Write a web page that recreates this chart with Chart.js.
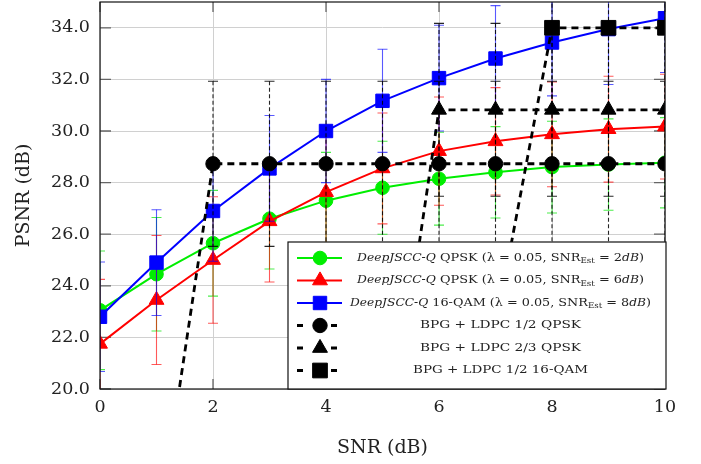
<!DOCTYPE html>
<html>
<head>
<meta charset="utf-8">
<script src="https://cdn.jsdelivr.net/npm/chart.js@4.4.0/dist/chart.umd.min.js"></script>
<style>
html,body{margin:0;padding:0;background:#fff;}
#wrap{width:701px;height:464px;position:relative;}
</style>
</head>
<body>
<div id="wrap"><canvas id="c" width="701" height="464"></canvas></div>
<script>
// ---- data ----
const snr = [0,1,2,3,4,5,6,7,8,9,10];
const xTicks = [0,2,4,6,8,10];
const yTicks = [20,22,24,26,28,30,32,34];

const qpsk2PSNR  = [23.05,24.45,25.65,26.6,27.3,27.8,28.15,28.4,28.6,28.7,28.77];
const qpsk2Err   = [2.3,2.2,2.05,1.95,1.87,1.8,1.8,1.77,1.78,1.77,1.75];
const qpsk6PSNR  = [21.75,23.45,25.0,26.5,27.63,28.55,29.22,29.6,29.87,30.07,30.17];
const qpsk6Err   = [2.5,2.5,2.45,2.35,2.3,2.15,2.1,2.08,2.03,2.05,2.03];
const qam8PSNR   = [22.8,24.9,26.9,28.55,30.0,31.17,32.05,32.81,33.43,33.95,34.37];
const qam8Err    = [2.12,2.05,1.95,2.05,2.0,2.0,2.05,2.05,2.07,2.15,2.1];
const bpgQ12PSNR = [null,14.1,28.73,28.73,28.73,28.73,28.73,28.73,28.73,28.73,28.73];
const bpgQ12Err  = [null,null,3.2,3.2,3.2,3.2,3.2,3.2,3.2,3.2,3.2];
const bpgQ23PSNR = [null,null,null,null,null,16.0,30.82,30.82,30.82,30.82,30.82];
const bpgQ23Err  = [null,null,null,null,null,null,3.35,3.35,3.35,3.35,3.35];
const bpgQAMPSNR = [null,null,null,null,null,null,null,22.4,34.0,34.0,34.0];
const bpgQAMErr  = [null,null,null,null,null,null,null,null,3.2,3.2,3.2];

const seriesNames = [
  [["DeepJSCC-Q","i"],[" QPSK (λ = 0.05, SNR","n"],["Est","s"],[" = 2","n"],["dB","i"],[")","n"]],
  [["DeepJSCC-Q","i"],[" QPSK (λ = 0.05, SNR","n"],["Est","s"],[" = 6","n"],["dB","i"],[")","n"]],
  [["DeepJSCC-Q","i"],[" 16-QAM (λ = 0.05, SNR","n"],["Est","s"],[" = 8","n"],["dB","i"],[")","n"]],
  [["BPG + LDPC 1/2 QPSK","n"]],
  [["BPG + LDPC 2/3 QPSK","n"]],
  [["BPG + LDPC 1/2 16-QAM","n"]]
];
const xTitle = "SNR (dB)";
const yTitle = "PSNR (dB)";

// ---- build ----
const pts = arr => snr.map((x,i)=>({x:x,y:arr[i]}));
const errs = [qpsk2Err,qpsk6Err,qam8Err,bpgQ12Err,bpgQ23Err,bpgQAMErr];
const errColors = ['rgba(0,230,0,0.7)','rgba(255,0,0,0.65)','rgba(0,0,255,0.65)','rgba(0,0,0,0.85)','rgba(0,0,0,0.85)','rgba(0,0,0,0.85)'];
const SERIF = '"DejaVu Serif", serif';

function colored(data,color,style,r,order){
  return {data:pts(data),borderColor:color,backgroundColor:color,pointBackgroundColor:color,
    pointBorderColor:color,pointStyle:style,pointRadius:r,pointHoverRadius:r,borderWidth:2,
    pointBorderWidth:1,tension:0,order:order,spanGaps:false};
}
function bpg(data,style,r,order){
  return {data:pts(data),borderColor:'#000',backgroundColor:'#000',pointBackgroundColor:'#000',
    pointBorderColor:'#000',pointStyle:style,pointRadius:r,pointHoverRadius:r,borderWidth:2.8,
    borderDash:[7,5],pointBorderWidth:1,tension:0,order:order,spanGaps:false};
}
const datasets = [
  colored(qpsk2PSNR,'#00ee00','circle',6.8,6),
  colored(qpsk6PSNR,'#ff0000','triangle',8.6,5),
  colored(qam8PSNR,'#0000ff','rect',9.5,4),
  bpg(bpgQ12PSNR,'circle',7.2,3),
  bpg(bpgQ23PSNR,'triangle',8.6,2),
  bpg(bpgQAMPSNR,'rect',10.4,1)
];

const errorBars = {
  id:'errorBars',
  beforeDatasetDraw(chart,args){
    const i=args.index, e=errs[i], ds=chart.data.datasets[i];
    const ctx=chart.ctx, a=chart.chartArea, xs=chart.scales.x, ys=chart.scales.y;
    ctx.save();
    ctx.beginPath(); ctx.rect(a.left,a.top,a.right-a.left,a.bottom-a.top); ctx.clip();
    ctx.strokeStyle=errColors[i]; ctx.lineWidth=1.1;
    ds.data.forEach((p,j)=>{
      if(p.y==null||e[j]==null) return;
      const px=xs.getPixelForValue(p.x), t=ys.getPixelForValue(p.y+e[j]), b=ys.getPixelForValue(p.y-e[j]);
      ctx.setLineDash(i>=3?[4,2.5]:[]);
      ctx.beginPath(); ctx.moveTo(px,t); ctx.lineTo(px,b); ctx.stroke();
      ctx.setLineDash([]);
      ctx.beginPath(); ctx.moveTo(px-5,t); ctx.lineTo(px+5,t); ctx.moveTo(px-5,b); ctx.lineTo(px+5,b); ctx.stroke();
    });
    ctx.restore();
  }
};

const frame = {
  id:'frame',
  beforeDatasetsDraw(chart){
    const ctx=chart.ctx, a=chart.chartArea, xs=chart.scales.x, ys=chart.scales.y;
    ctx.save(); ctx.strokeStyle='#666'; ctx.lineWidth=1.3;
    ctx.beginPath();
    xTicks.forEach(v=>{const p=xs.getPixelForValue(v); ctx.moveTo(p,a.bottom); ctx.lineTo(p,a.bottom-10); ctx.moveTo(p,a.top); ctx.lineTo(p,a.top+10);});
    yTicks.forEach(v=>{const p=ys.getPixelForValue(v); ctx.moveTo(a.left,p); ctx.lineTo(a.left+11,p); ctx.moveTo(a.right,p); ctx.lineTo(a.right-11,p);});
    ctx.stroke(); ctx.restore();
  },
  afterDraw(chart){
    const ctx=chart.ctx, a=chart.chartArea;
    ctx.save();
    ctx.strokeStyle='#111'; ctx.lineWidth=1.2;
    ctx.strokeRect(a.left,a.top,a.right-a.left,a.bottom-a.top);
    // axis titles
    ctx.fillStyle='#222'; ctx.font='19px '+SERIF; ctx.textAlign='center'; ctx.textBaseline='middle';
    ctx.fillText(xTitle,(a.left+a.right)/2,448);
    ctx.translate(24,(a.top+a.bottom)/2); ctx.rotate(-Math.PI/2);
    ctx.fillText(yTitle,0,0);
    ctx.restore();
    // legend
    ctx.save();
    const L=288,T=242,R=a.right+1,B=a.bottom;
    ctx.fillStyle='#fff'; ctx.fillRect(L,T,R-L,B-T);
    ctx.strokeStyle='#111'; ctx.lineWidth=1.2; ctx.strokeRect(L,T,R-L,B-T);
    const fs=11.5;
    const fonts={n:fs+'px '+SERIF,i:'italic '+(fs-0.5)+'px '+SERIF,s:(fs*0.68)+'px '+SERIF};
    const measure=segs=>segs.reduce((w,s)=>{ctx.font=fonts[s[1]];return w+ctx.measureText(s[0]).width;},0);
    const targetW=[287,287,301,161,161,175];
    const rows=[258,280.5,303,325.5,348,370.5];
    chart.data.datasets.forEach((ds,k)=>{
      const y=rows[k];
      ctx.save();
      ctx.strokeStyle=ds.borderColor; ctx.fillStyle=ds.borderColor;
      if(k<3){ ctx.lineWidth=2; ctx.beginPath(); ctx.moveTo(297,y); ctx.lineTo(342,y); ctx.stroke(); }
      else { ctx.lineWidth=2.8; ctx.beginPath(); ctx.moveTo(297,y); ctx.lineTo(303,y); ctx.moveTo(331,y); ctx.lineTo(337,y); ctx.stroke(); }
      ctx.lineWidth=1;
      Chart.helpers.drawPoint(ctx,{pointStyle:ds.pointStyle,radius:ds.pointRadius,borderWidth:1,rotation:0},320,y);
      ctx.restore();
      const segs=seriesNames[k]; const nat=measure(segs); const sx=targetW[k]/nat;
      ctx.save(); ctx.translate(500.5-targetW[k]/2,y); ctx.scale(sx,1);
      ctx.fillStyle='#222'; ctx.textBaseline='middle'; ctx.textAlign='left';
      let xx=0;
      segs.forEach(s=>{ctx.font=fonts[s[1]]; ctx.fillText(s[0],xx,s[1]==='s'?3:0); xx+=ctx.measureText(s[0]).width;});
      ctx.restore();
    });
    ctx.restore();
  }
};

new Chart(document.getElementById('c'),{
  type:'line',
  data:{datasets:datasets},
  options:{
    responsive:false,animation:false,
    layout:{autoPadding:false,padding:{top:2,right:36,left:0,bottom:0}},
    plugins:{legend:{display:false},tooltip:{enabled:false}},
    scales:{
      x:{type:'linear',min:0,max:10,
        ticks:{stepSize:2,padding:8,color:'#222',font:{family:'"DejaVu Serif", serif',size:17.5},callback:v=>String(v)},
        grid:{color:'#d0d0d0',lineWidth:1,drawTicks:false},border:{display:false},
        afterBuildTicks:s=>{s.ticks=xTicks.map(v=>({value:v}));},
        afterFit:s=>{s.height=75;s.paddingLeft=0;s.paddingRight=0;}},
      y:{type:'linear',min:20,max:35,
        ticks:{padding:10,color:'#222',font:{family:'"DejaVu Serif", serif',size:17.5,lineHeight:0.01},callback:v=>Number(v).toFixed(1)},
        grid:{color:'#d0d0d0',lineWidth:1,drawTicks:false},border:{display:false},
        afterBuildTicks:s=>{s.ticks=yTicks.map(v=>({value:v}));},
        afterFit:s=>{s.width=100;s.paddingTop=0;s.paddingBottom=0;}}
    }
  },
  plugins:[errorBars,frame]
});
</script>
</body>
</html>
